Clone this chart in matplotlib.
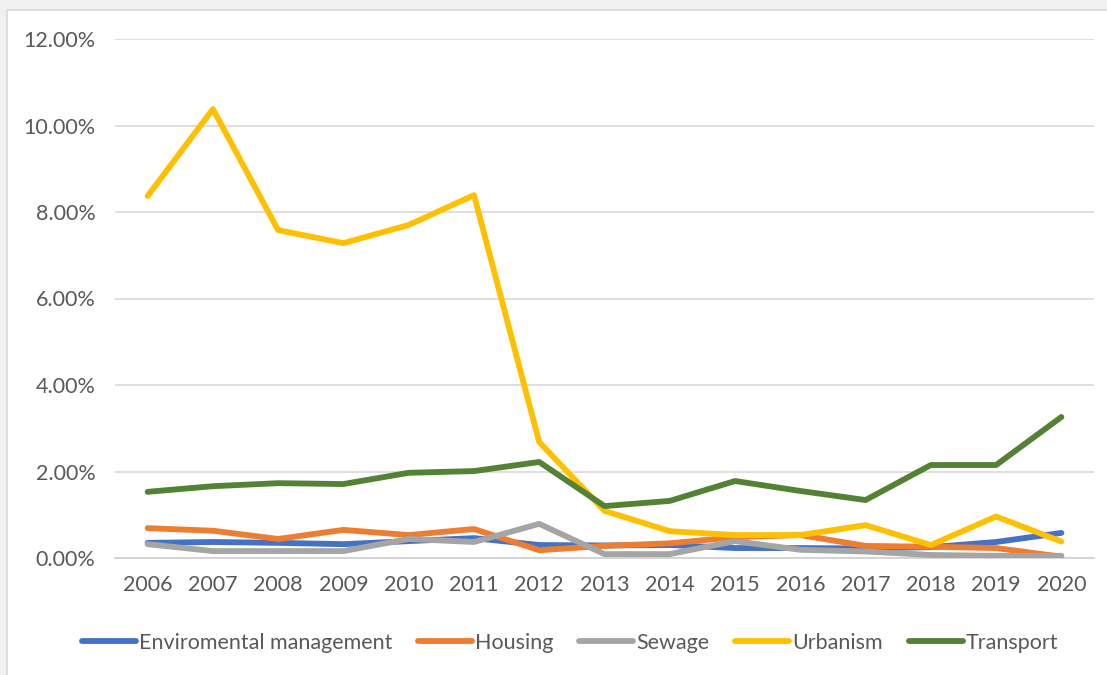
import matplotlib.pyplot as plt
from matplotlib.patches import Rectangle
from matplotlib.ticker import PercentFormatter

years = [str(y) for y in range(2006, 2021)]

# shares in percent
enviro = [0.35, 0.37, 0.35, 0.32, 0.39, 0.46, 0.30, 0.29, 0.30, 0.23, 0.23, 0.22, 0.25, 0.37, 0.58]
housing = [0.69, 0.63, 0.44, 0.65, 0.53, 0.67, 0.18, 0.28, 0.34, 0.48, 0.53, 0.28, 0.26, 0.23, 0.03]
sewage = [0.32, 0.16, 0.16, 0.16, 0.44, 0.37, 0.79, 0.09, 0.09, 0.39, 0.19, 0.15, 0.07, 0.05, 0.05]
urbanism = [8.37, 10.38, 7.58, 7.28, 7.70, 8.39, 2.68, 1.09, 0.62, 0.53, 0.53, 0.76, 0.30, 0.96, 0.38]
transport = [1.53, 1.66, 1.73, 1.71, 1.97, 2.01, 2.22, 1.20, 1.32, 1.78, 1.55, 1.34, 2.15, 2.15, 3.26]

series = [
    ('Enviromental management', enviro, '#4472C4'),
    ('Housing', housing, '#ED7D31'),
    ('Sewage', sewage, '#A5A5A5'),
    ('Urbanism', urbanism, '#FFC000'),
    ('Transport', transport, '#548235'),
]

plt.rcParams['font.family'] = ['Lato', 'DejaVu Sans']

fig = plt.figure(figsize=(11.07, 6.75), dpi=100)
fig.patch.set_facecolor('#F0F0F0')
# white chart panel, cut off at the right and bottom edges
fig.patches.append(Rectangle((7 / 1107, -0.05), 1.1, 1.05 - 10 / 675,
                             transform=fig.transFigure, facecolor='white',
                             edgecolor='#D9D9D9', linewidth=1.2, zorder=-5))

ax = fig.add_axes([115 / 1107, 1 - 558 / 675, 979 / 1107, 519 / 675])
ax.set_zorder(2)
ax.set_facecolor('none')
x = range(len(years))
for name, vals, color in series:
    ax.plot(x, vals, color=color, lw=4.2, label=name,
            solid_capstyle='round', solid_joinstyle='round', zorder=3)

ax.set_xlim(-0.5, len(years) - 0.5)
ax.set_ylim(0, 12)
ax.set_yticks(range(0, 13, 2))
ax.yaxis.set_major_formatter(PercentFormatter(decimals=2))
ax.set_xticks(list(x))
ax.set_xticklabels(years)
ax.grid(axis='y', color='#D9D9D9', lw=1.2)
ax.set_axisbelow(True)
for s in ['top', 'right', 'left']:
    ax.spines[s].set_visible(False)
ax.spines['bottom'].set_color('#D0D0D0')
ax.spines['bottom'].set_linewidth(1.2)
ax.tick_params(length=0, labelsize=15.5, labelcolor='#595959')
ax.tick_params(axis='x', pad=12)
ax.tick_params(axis='y', pad=14)

leg = fig.legend(loc='center', bbox_to_anchor=(0.515, 1 - 643 / 675), ncol=5,
                 frameon=False, fontsize=15.5, handlelength=2.5, handletextpad=0.15,
                 columnspacing=1.2)
for t in leg.get_texts():
    t.set_color('#595959')

fig.savefig('out.png', dpi=100, facecolor=fig.get_facecolor())
